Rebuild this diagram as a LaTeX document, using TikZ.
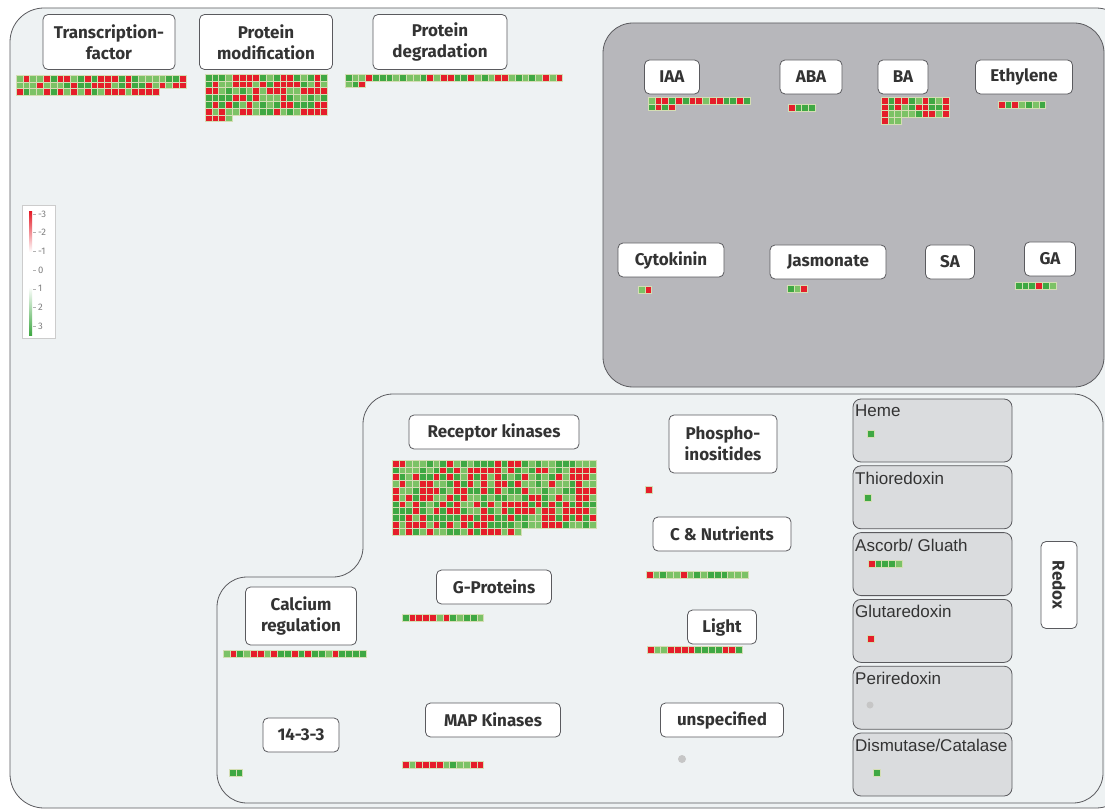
\documentclass[tikz,border=0pt]{standalone}
\usepackage{fontspec}
\setsansfont{Fira Sans}
\newfontfamily\arialfont{Liberation Sans}

\definecolor{bgpanel}{HTML}{EEF2F3}
\definecolor{hormgray}{HTML}{B7B7BB}
\definecolor{redoxgray}{HTML}{DADCDE}
\definecolor{framegray}{HTML}{5A5A5E}
\definecolor{cellr}{HTML}{E51E2A}
\definecolor{cellg}{HTML}{3FA843}
\definecolor{celll}{HTML}{7CC266}
\definecolor{cellgrid}{HTML}{D4DEB4}
\definecolor{txtgray}{HTML}{333333}

\begin{document}
\begin{tikzpicture}[x=1pt,y=-1pt,
    lbl/.style={draw=framegray, fill=white, rounded corners=5pt, thick, font=\sffamily\bfseries\fontsize{17}{21}\selectfont, text=txtgray, align=center, inner sep=2pt, minimum height=34pt},
    redoxbox/.style={draw=framegray, fill=redoxgray, rounded corners=8pt, thick},
    redoxtxt/.style={font=\arialfont\fontsize{17}{18}\selectfont, text=txtgray, anchor=north west, inner sep=0pt},
    legtxt/.style={font=\sffamily\fontsize{9.5}{9.5}\selectfont, text=gray, anchor=west, inner sep=0pt},
    cell/.style={draw=cellgrid, line width=0.4pt}]

    \useasboundingbox (0,0) rectangle (1105,810);
    \fill[white] (0,0) rectangle (1105,810);

    \draw[framegray, fill=bgpanel, thick, rounded corners=34pt] (10,8) -- (1130,8) -- (1130,808) -- (10,808) -- cycle; %outer panel
    \draw[framegray, fill=hormgray, thick, rounded corners=30pt] (603,23) rectangle (1104,387); %hormones
    \draw[framegray, thick, rounded corners=30pt] (217,803) -- (217,577) -- (363,577) -- (363,394) -- (1103,394) -- (1103,803) -- cycle; %signalling

    % legend
    \draw[gray!40, fill=white] (22,205) rectangle (55,338);
    \shade[top color=cellr, bottom color=white] (29,212) rectangle (32,252);
    \shade[top color=white, bottom color=cellg] (29,287) rectangle (32,335);
    \foreach \v [count=\i from 0] in {-3,-2,-1,0,1,2,3} {
        \draw[gray!60] (33,214+\i*18.7) -- ++(3,0);
        \node[legtxt] (leg\i) at (38,214+\i*18.7) {\v};
    }

    % labels
    \node[lbl, minimum width=132pt, minimum height=55pt] (tf) at (109,42) {Transcription-\\factor};
    \node[lbl, minimum width=133pt, minimum height=55pt] (pmod) at (266,42) {Protein\\modification};
    \node[lbl, minimum width=134pt, minimum height=55pt] (pdeg) at (440,42) {Protein\\degradation};

    \node[lbl, minimum width=55pt] (iaa) at (672,77) {IAA};
    \node[lbl, minimum width=62pt] (aba) at (811,77) {ABA};
    \node[lbl, minimum width=50pt] (ba) at (903,77) {BA};
    \node[lbl, minimum width=97pt] (eth) at (1024,77) {Ethylene};
    \node[lbl, minimum width=106pt] (cyto) at (671,260) {Cytokinin};
    \node[lbl, minimum width=116pt] (jasm) at (828,262) {Jasmonate};
    \node[lbl, minimum width=49pt] (sa) at (950,262) {SA};
    \node[lbl, minimum width=51pt] (ga) at (1050,259) {GA};

    \node[lbl, minimum width=170pt] (rk) at (494,432) {Receptor kinases};
    \node[lbl, minimum width=115pt] (gp) at (494,587) {G-Proteins};
    \node[lbl, minimum width=111pt, minimum height=58pt] (ca) at (301,616) {Calcium\\regulation};
    \node[lbl, minimum width=76pt] (f33) at (301,735) {14-3-3};
    \node[lbl, minimum width=135pt] (mapk) at (493,720) {MAP Kinases};
    \node[lbl, minimum width=108pt, minimum height=58pt] (phos) at (723,444) {Phospho-\\inositides};
    \node[lbl, minimum width=138pt] (cnut) at (722,534) {C \& Nutrients};
    \node[lbl, minimum width=69pt] (light) at (722,627) {Light};
    \node[lbl, minimum width=123pt] (unsp) at (722,720) {unspecified};
    \node[lbl, rotate=-90, minimum width=87pt, minimum height=36pt] (redox) at (1059,585) {Redox};

    % redox boxes
    \foreach \nm [count=\i from 0] in {Heme,Thioredoxin,Ascorb/ Gluath,Glutaredoxin,Periredoxin,Dismutase/Catalase} {
        \draw[redoxbox] (853,399+\i*66.8) rectangle ++(159,63);
        \node[redoxtxt] (rx\i) at (855,405+\i*66.8) {\nm};
    }

    % heat maps
    \pgfmathsetseed{7}
    \foreach \hx/\hy/\hc/\hn in {16/75/25/71, 205/74/18/112, 345/74/32/35, 648/97/15/19, 881/97/10/33, 392/460/30/319, 402/614/12/12, 223/650/21/21, 402/761/12/12, 646/571/15/15, 647/646/14/14}
        \foreach \k in {1,...,\hn} {
            \pgfmathtruncatemacro\cx{mod(\k-1,\hc)}
            \pgfmathtruncatemacro\cy{div(\k-1,\hc)}
            \pgfmathrandominteger{\cc}{1}{10}
            \ifnum\cc<5 \def\cl{cellr}\else\ifnum\cc<8 \def\cl{cellg}\else\def\cl{celll}\fi\fi
            \path[fill=\cl, cell] (\hx+\cx*6.8,\hy+\cy*6.8) rectangle ++(6.8,6.8);
        }
    \foreach \c [count=\i from 0] in {r,g,g,g} \path[fill=cell\c, cell] (788+\i*6.8,104) rectangle ++(6.8,6.8); %ABA
    \foreach \c [count=\i from 0] in {r,g,r,l,g,l,g} \path[fill=cell\c, cell] (998+\i*6.8,101) rectangle ++(6.8,6.8); %Ethylene
    \foreach \c [count=\i from 0] in {l,r} \path[fill=cell\c, cell] (638+\i*6.8,286) rectangle ++(6.8,6.8); %Cytokinin
    \foreach \c [count=\i from 0] in {g,l,r} \path[fill=cell\c, cell] (787+\i*6.8,285) rectangle ++(6.8,6.8); %Jasmonate
    \foreach \c [count=\i from 0] in {g,g,g,r,g,l} \path[fill=cell\c, cell] (1015+\i*6.8,282) rectangle ++(6.8,6.8); %GA
    \foreach \c [count=\i from 0] in {g,g} \path[fill=cell\c, cell] (229+\i*6.8,769) rectangle ++(6.8,6.8); %14-3-3
    \foreach \c [count=\i from 0] in {r,g,g,g,l} \path[fill=cell\c, cell] (868+\i*6.8,560) rectangle ++(6.8,6.8); %Ascorb
    \path[fill=cellr, cell] (645,486) rectangle ++(6.8,6.8); %Phospho
    \path[fill=cellg, cell] (867,430) rectangle ++(6.8,6.8); %Heme
    \path[fill=cellg, cell] (864,494) rectangle ++(6.8,6.8); %Thioredoxin
    \path[fill=cellr, cell] (867,635) rectangle ++(6.8,6.8); %Glutaredoxin
    \path[fill=cellg, cell] (873,769) rectangle ++(6.8,6.8); %Dismutase
    \fill[gray!45] (682,759) circle (4); %unspecified
    \fill[gray!45] (870,705) circle (3.5); %Periredoxin

\end{tikzpicture}
\end{document}
